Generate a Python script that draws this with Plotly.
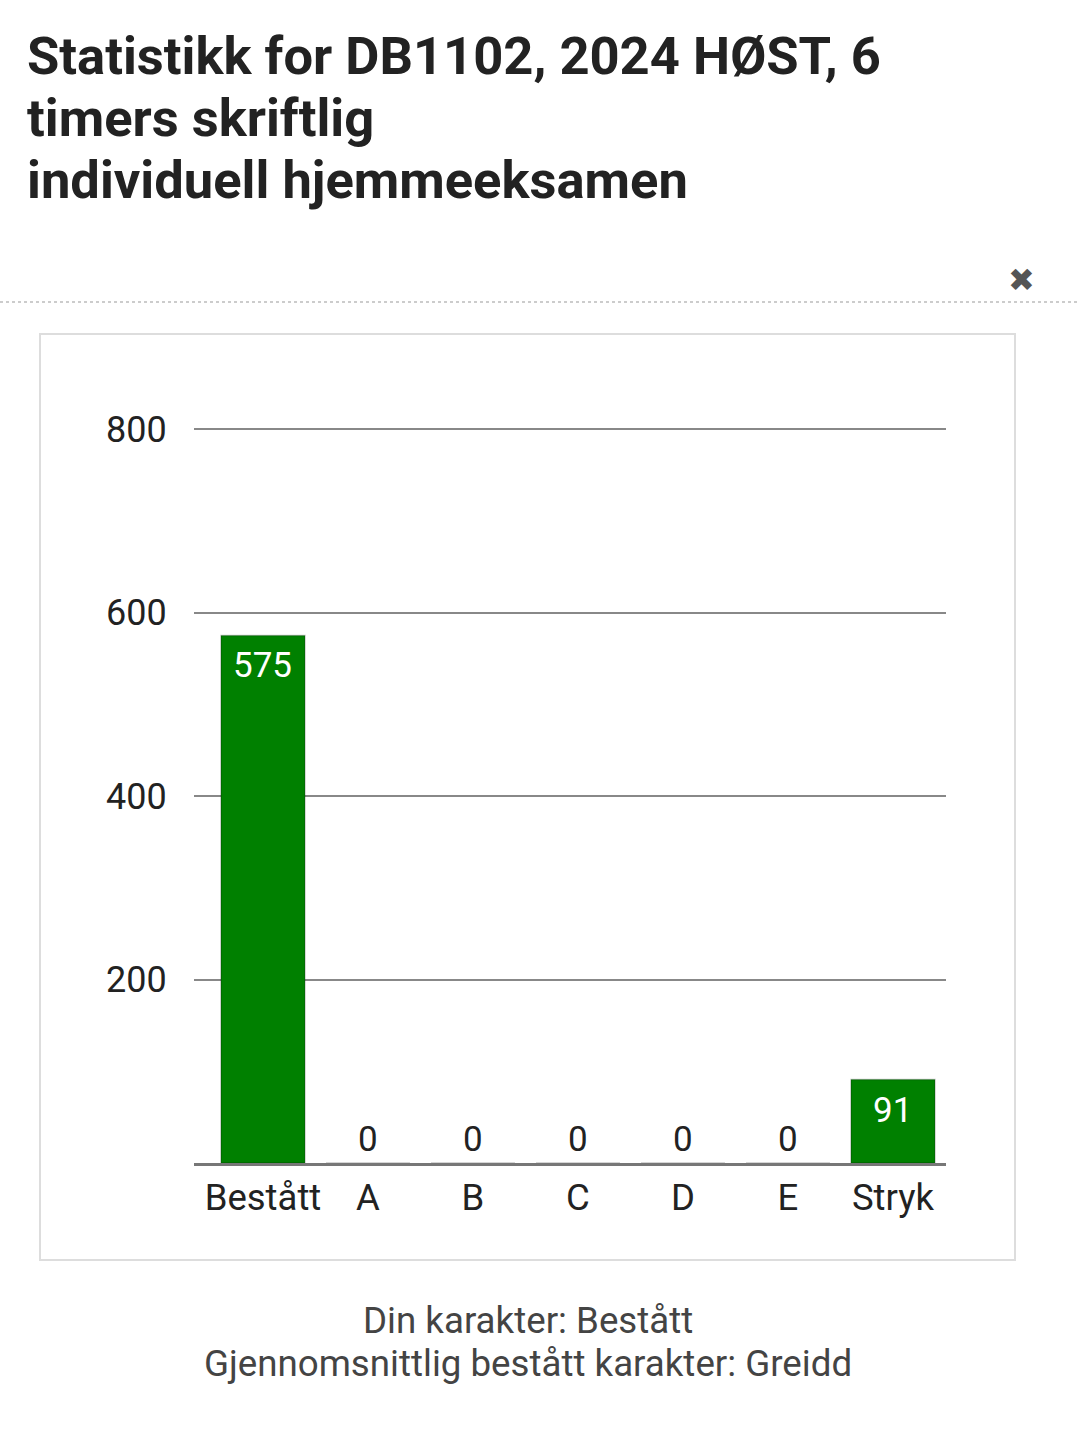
import plotly.graph_objects as go

W, H = 1080, 1438

title_lines = ["Statistikk for DB1102, 2024 HØST, 6", "timers skriftlig", "individuell hjemmeeksamen"]
categories = ["Bestått", "A", "B", "C", "D", "E", "Stryk"]
counts = [575, 0, 0, 0, 0, 0, 91]
y_ticks = [200, 400, 600, 800]
footer_lines = ["Din karakter: Bestått", "Gjennomsnittlig bestått karakter: Greidd"]


def px(x):
    return x / W


def py(y):
    return 1 - y / H


Y_MAX = 805
y_top_px = 1163 - (1163 - 429) * Y_MAX / 800

fig = go.Figure()
fig.add_trace(go.Bar(
    x=list(range(len(categories))),
    y=counts,
    width=0.8,
    marker=dict(color="#008000", line=dict(color="rgba(0,0,0,0.22)", width=1.5)),
    hoverinfo="skip",
))

annotations = []
for i, v in enumerate(counts):
    if v > 0:
        annotations.append(dict(x=i, y=v, xref="x", yref="y", text=str(v), showarrow=False,
                                yanchor="top", yshift=-8,
                                font=dict(family="Roboto", size=35, color="#ffffff")))
    else:
        annotations.append(dict(x=i, y=v, xref="x", yref="y", text=str(v), showarrow=False,
                                yanchor="bottom", yshift=1,
                                font=dict(family="Roboto", size=35, color="#222222")))

for text, cy in zip(title_lines, [56, 118, 180]):
    annotations.append(dict(x=px(25), y=py(cy), xref="paper", yref="paper", text=text,
                            showarrow=False, xanchor="left", yanchor="middle",
                            font=dict(family="Roboto", size=52.5, color="#222222", weight=700)))

for text, cy in zip(footer_lines, [1320, 1363]):
    annotations.append(dict(x=px(528), y=py(cy), xref="paper", yref="paper", text=text,
                            showarrow=False, xanchor="center", yanchor="middle",
                            font=dict(family="Roboto", size=36.7, color="#444444")))

annotations.append(dict(x=px(1021), y=py(280), xref="paper", yref="paper", text="✖",
                        showarrow=False, xanchor="center", yanchor="middle",
                        font=dict(family="DejaVu Sans", size=32, color="#555555")))

shapes = [
    dict(type="line", xref="paper", yref="paper", x0=0, x1=1, y0=py(302), y1=py(302),
         line=dict(color="#cccccc", width=2, dash="dot")),
    dict(type="rect", xref="paper", yref="paper", x0=px(40), x1=px(1015), y0=py(334), y1=py(1260),
         line=dict(color="#dddddd", width=2), layer="below"),
]

fig.update_layout(
    width=W, height=H,
    margin=dict(l=0, r=0, t=0, b=0, pad=0, autoexpand=False),
    paper_bgcolor="white", plot_bgcolor="white",
    showlegend=False,
    annotations=annotations,
    shapes=shapes,
    font=dict(family="Roboto", color="#222222"),
    xaxis=dict(
        domain=[px(194), px(946)],
        range=[-0.657, 6.505],
        tickmode="array",
        tickvals=list(range(len(categories))),
        ticktext=categories,
        tickfont=dict(family="Roboto", size=36.5, color="#222222"),
        ticks="", ticklen=0,
        showgrid=False, zeroline=False,
        showline=True, linecolor="#777777", linewidth=3,
        automargin=False,
        fixedrange=True,
    ),
    yaxis=dict(
        domain=[py(1163), py(y_top_px)],
        range=[0, Y_MAX],
        tickmode="array",
        tickvals=y_ticks,
        tickfont=dict(family="Roboto", size=36, color="#222222"),
        ticks="outside", ticklen=19, tickcolor="rgba(0,0,0,0)",
        showgrid=True, gridcolor="#888888", gridwidth=2,
        zeroline=False, showline=False,
        automargin=False,
        fixedrange=True,
    ),
)

fig.write_html("out.html", config={"displayModeBar": False},
               post_script="document.body.style.margin='0';")
